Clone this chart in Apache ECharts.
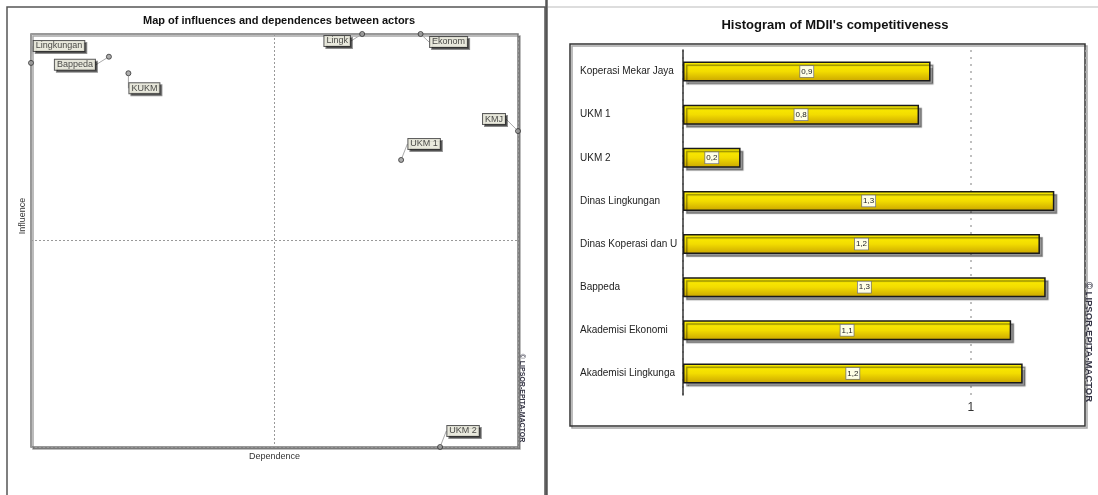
<!DOCTYPE html>
<html>
<head>
<meta charset="utf-8">
<script src="https://cdn.jsdelivr.net/npm/echarts@6/dist/echarts.min.js"></script>
<style>
html,body{margin:0;padding:0;background:#fff;}
#c{width:1098px;height:495px;}
</style>
</head>
<body>
<div id="c"></div>
<script>
// ---- data: actors map ----
const actorLabels = ['Lingkungan', 'Bappeda', 'KUKM', 'Lingk', 'Ekonom', 'KMJ', 'UKM 1', 'UKM 2'];
const dependence = [0.00, 0.32, 0.40, 1.36, 1.60, 2.00, 1.52, 1.68];
const influence  = [1.86, 1.89, 1.81, 2.00, 2.00, 1.53, 1.39, 0.00];

// ---- data: MDII histogram ----
const categories = ['Koperasi Mekar Jaya', 'UKM 1', 'UKM 2', 'Dinas Lingkungan', 'Dinas Koperasi dan U', 'Bappeda', 'Akademisi Ekonomi', 'Akademisi Lingkunga'];
const mdii = [0.86, 0.82, 0.20, 1.29, 1.24, 1.26, 1.14, 1.18];
const mdiiTicks = ['1'];

const leftTitle = 'Map of influences and dependences between actors';
const rightTitle = "Histogram of MDII's competitiveness";

// label placement (style)
const labelShift = [[28,-17],[-34,8],[16,15],[-25,7],[28,8],[-24,-12],[23,-16],[23,-16]];

const chart = echarts.init(document.getElementById('c'), null, {renderer: 'canvas'});
const narrow = '"Liberation Sans Narrow", "Arial Narrow", "Liberation Sans", Arial, sans-serif';
const sans = '"Liberation Sans", Arial, sans-serif';

const option = {
  animation: false,
  backgroundColor: '#fff',
  title: [
    {text: leftTitle, left: 274, top: 10, textAlign: 'center',
     textStyle: {fontFamily: sans, fontSize: 11, fontWeight: 'bold', color: '#111'}},
    {text: rightTitle, left: 830, top: 14, textAlign: 'center',
     textStyle: {fontFamily: narrow, fontSize: 13, fontWeight: 'bold', color: '#111'}}
  ],
  grid: [
    {left: 31, top: 34, width: 487, height: 413, show: true, backgroundColor: '#fff',
     borderColor: '#777', borderWidth: 1.5, shadowColor: 'rgba(0,0,0,0.35)', shadowOffsetX: 2, shadowOffsetY: 2, shadowBlur: 0},
    {left: 683, right: 12, top: 50, height: 345}
  ],
  xAxis: [
    {gridIndex: 0, type: 'value', min: 0, max: 2, interval: 1,
     name: 'Dependence', nameLocation: 'middle', nameGap: 5,
     nameTextStyle: {fontFamily: sans, fontSize: 9, color: '#333'},
     axisLine: {show: false}, axisTick: {show: false}, axisLabel: {show: false},
     splitLine: {show: true, lineStyle: {color: '#999', type: [2, 2], width: 1}}},
    {gridIndex: 1, type: 'value', min: 0, max: 1.4, interval: 1,
     axisLine: {show: false}, axisTick: {show: false},
     axisLabel: {show: true, margin: 7, fontFamily: narrow, fontSize: 12, color: '#333',
       formatter: v => mdiiTicks.indexOf(String(v)) >= 0 ? String(v) : ''},
     splitLine: {show: true, lineStyle: {color: '#aaa', type: [2, 5], width: 1.5}}}
  ],
  yAxis: [
    {gridIndex: 0, type: 'value', min: 0, max: 2, interval: 1,
     axisLine: {show: false}, axisTick: {show: false}, axisLabel: {show: false},
     splitLine: {show: true, lineStyle: {color: '#999', type: [2, 2], width: 1}}},
    {gridIndex: 1, type: 'category', data: categories, inverse: true,
     axisLine: {show: true, lineStyle: {color: '#333', width: 1.5}},
     axisTick: {show: false},
     axisLabel: {align: 'left', margin: 103, fontFamily: narrow, fontSize: 10, color: '#222'}}
  ],
  series: [
    {
      type: 'scatter', xAxisIndex: 0, yAxisIndex: 0, clip: false,
      data: dependence.map((d, i) => [d, influence[i]]),
      symbol: 'circle', symbolSize: 5,
      itemStyle: {color: '#999', borderColor: '#333', borderWidth: 1},
      label: {
        show: true, position: 'inside',
        formatter: p => actorLabels[p.dataIndex],
        fontFamily: sans, fontSize: 9, color: '#222',
        backgroundColor: '#fffff0', borderColor: '#333', borderWidth: 1,
        padding: [1, 2, 0, 2],
        shadowColor: 'rgba(0,0,0,0.55)', shadowOffsetX: 2, shadowOffsetY: 2, shadowBlur: 0
      },
      labelLayout: p => ({dx: labelShift[p.dataIndex][0], dy: labelShift[p.dataIndex][1]}),
      labelLine: {show: true, lineStyle: {color: '#aaa', width: 1}}
    },
    {
      type: 'bar', xAxisIndex: 1, yAxisIndex: 1,
      data: mdii, barWidth: 20,
      itemStyle: {
        color: new echarts.graphic.LinearGradient(0, 0, 0, 1, [
          {offset: 0, color: '#fff200'}, {offset: 0.5, color: '#f2dc00'}, {offset: 1, color: '#c9a400'}
        ]),
        borderColor: '#1a1a1a', borderWidth: 1.5,
        shadowColor: 'rgba(0,0,0,0.4)', shadowOffsetX: 3, shadowOffsetY: 3, shadowBlur: 1
      },
      label: {
        show: true, position: 'inside',
        formatter: p => p.value.toFixed(1).replace('.', ','),
        fontFamily: narrow, fontSize: 8, color: '#222',
        backgroundColor: '#ffffe6', borderColor: '#777', borderWidth: 0.8,
        padding: [2, 1, 1, 1]
      }
    }
  ],
  graphic: [
    {type: 'rect', shape: {x: 7, y: 7, width: 538, height: 500}, style: {fill: 'none', stroke: '#555', lineWidth: 1.5}, silent: true, z: -1},
    {type: 'line', shape: {x1: 546.5, y1: 0, x2: 546.5, y2: 495}, style: {stroke: '#555', lineWidth: 2.5}, silent: true},
    {type: 'line', shape: {x1: 548, y1: 7, x2: 1098, y2: 7}, style: {stroke: '#bbb', lineWidth: 1}, silent: true},
    {type: 'rect', shape: {x: 570, y: 44, width: 515, height: 382},
     style: {fill: 'none', stroke: '#333', lineWidth: 1.5, shadowColor: 'rgba(0,0,0,0.35)', shadowOffsetX: 2, shadowOffsetY: 2}, silent: true, z: -1},
    {type: 'text', x: 23, y: 216, rotation: Math.PI / 2,
     style: {text: 'Influence', fontFamily: sans, fontSize: 9, fill: '#333', align: 'center', verticalAlign: 'middle'}, silent: true},
    {type: 'text', x: 522, y: 398, rotation: -Math.PI / 2,
     style: {text: '© LIPSOR-EPITA-MACTOR', fontFamily: sans, fontSize: 7, fontWeight: 'bold', fill: '#334', align: 'center', verticalAlign: 'middle'}, silent: true},
    {type: 'text', x: 1089, y: 342, rotation: -Math.PI / 2,
     style: {text: '© LIPSOR-EPITA-MACTOR', fontFamily: sans, fontSize: 9.5, fontWeight: 'bold', fill: '#334', align: 'center', verticalAlign: 'middle'}, silent: true}
  ]
};
chart.setOption(option);
</script>
</body>
</html>
